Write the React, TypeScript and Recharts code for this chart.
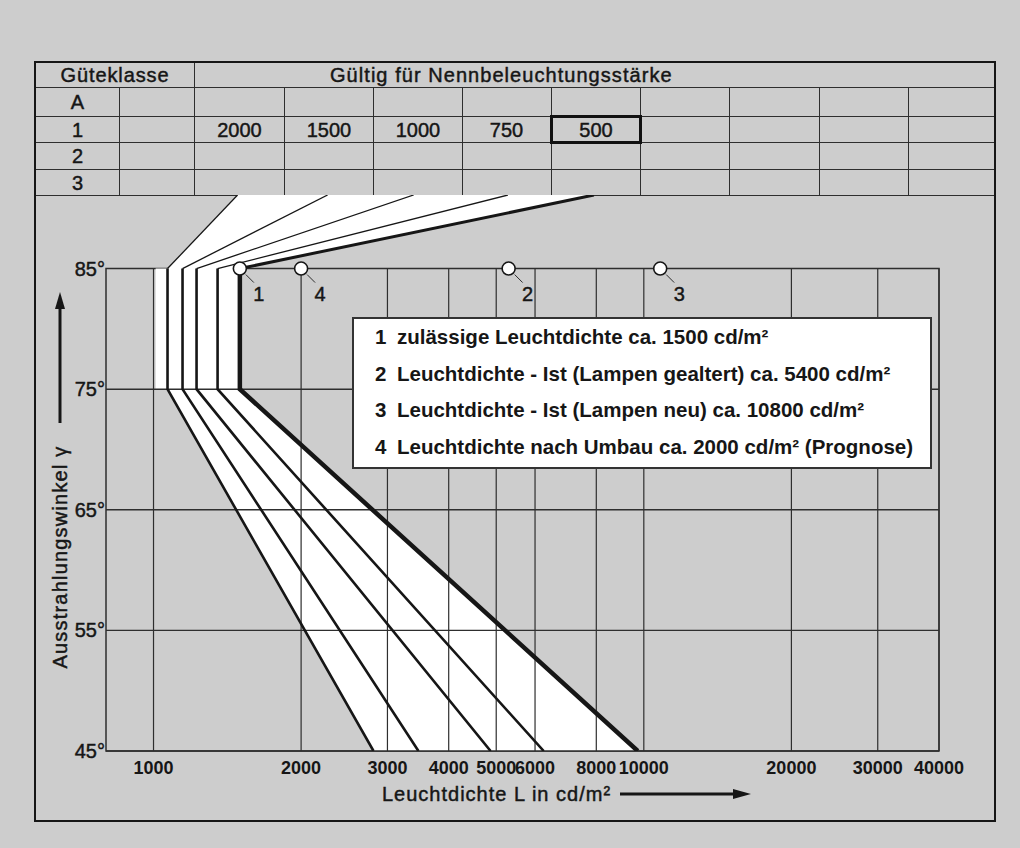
import React from "react";
import {
  ComposedChart,
  Area,
  Line,
  XAxis,
  YAxis,
  Label,
  Legend,
  ReferenceArea,
  ReferenceLine,
  ReferenceDot,
} from "recharts";

const FONT = "'Liberation Sans', Arial, Helvetica, sans-serif";
const INK = "#161616";
const GRID = "#2e2e2e";
const PAPER = "#cdcdcd";
const MEDIUM = 0.45; // extra stroke to give regular text a medium weight

// axes
const angleTicks = [45, 55, 65, 75, 85];
const luminanceTicks = [1000, 2000, 3000, 4000, 5000, 6000, 8000, 10000, 20000, 30000, 40000];
const L_MIN = 800;
const L_MAX = 40000;
const TABLE_EDGE = 91.1; // angle where the fan meets the table

// table
const gueteklassen = ["A", "1", "2", "3"];
const klasse1Werte = ["2000", "1500", "1000", "750", "500"];
const selectedWert = "500";
const colWidths = [84, 75, 90, 89, 89, 89, 89, 89, 90, 89, 87];
const rowHeights = [25, 29, 26, 27, 26];

// limit curves, L at [table edge, 85°, 75°, 45°]
const curveAngles = [TABLE_EDGE, 85, 75, 45];
const curve2000 = [1484, 1068, 1068, 2810];
const curve1500 = [2265, 1146, 1146, 3470];
const curve1000 = [3393, 1224, 1224, 4870];
const curve750 = [5280, 1351, 1351, 6250];
const curve500 = [7910, 1500, 1500, 9720];
const curves = [curve2000, curve1500, curve1000, curve750, curve500];

// white band
const bandAngles = [TABLE_EDGE, 85, 85, 75, 75, 45];
const bandLeft = [1484, 1068, 1010, 1010, 1068, 2810];
const bandRight = [7910, 1500, 1500, 1500, 1500, 9720];

// marked points at 85°
const markerIds = ["1", "2", "3", "4"];
const markerL = [1500, 5300, 10800, 2000];
const legendTexts = [
  "zulässige Leuchtdichte ca. 1500 cd/m²",
  "Leuchtdichte - Ist (Lampen gealtert) ca. 5400 cd/m²",
  "Leuchtdichte - Ist (Lampen neu) ca. 10800 cd/m²",
  "Leuchtdichte nach Umbau ca. 2000 cd/m² (Prognose)",
];

const bandData = bandAngles.map((y, i) => ({ y, band: [bandLeft[i], bandRight[i]] }));
const rows = (vals: number[], from: number, to: number) =>
  curveAngles.slice(from, to).map((y, i) => ({ y, L: vals[from + i] }));

function Table() {
  const cell: React.CSSProperties = {
    border: `1.5px solid ${GRID}`,
    padding: 0,
    textAlign: "center",
    fontSize: 20,
    lineHeight: "20px",
    overflow: "hidden",
    whiteSpace: "nowrap",
    WebkitTextStroke: `${MEDIUM}px ${INK}`,
  };
  return (
    <table
      style={{
        position: "absolute",
        left: 35,
        top: 62,
        width: 960,
        borderCollapse: "collapse",
        tableLayout: "fixed",
        fontFamily: FONT,
        color: INK,
      }}
    >
      <colgroup>
        {colWidths.map((w, i) => (
          <col key={i} style={{ width: w }} />
        ))}
      </colgroup>
      <tbody>
        <tr style={{ height: rowHeights[0] }}>
          <td colSpan={2} style={{ ...cell, letterSpacing: 0.9 }}>
            Güteklasse
          </td>
          <td colSpan={9} style={{ ...cell, textAlign: "left", paddingLeft: 135, letterSpacing: 1.05 }}>
            Gültig für Nennbeleuchtungsstärke
          </td>
        </tr>
        {gueteklassen.map((k, r) => (
          <tr key={k} style={{ height: rowHeights[r + 1] }}>
            <td style={cell}>{k}</td>
            <td style={cell} />
            {Array.from({ length: 9 }, (_, c) => {
              const v = k === "1" ? klasse1Werte[c] : undefined;
              const sel = v === selectedWert ? { border: `3px solid #111` } : {};
              return (
                <td key={c} style={{ ...cell, ...sel }}>
                  {v ?? ""}
                </td>
              );
            })}
          </tr>
        ))}
      </tbody>
    </table>
  );
}

function LegendBox() {
  return (
    <div
      style={{
        width: 580,
        height: 152,
        boxSizing: "border-box",
        border: `2px solid #333`,
        background: "#fff",
        paddingLeft: 21,
        fontFamily: FONT,
        fontWeight: 700,
        fontSize: 20.5,
        lineHeight: "36.7px",
        color: INK,
      }}
    >
      {legendTexts.map((t, i) => (
        <div key={i} style={{ display: "flex", whiteSpace: "nowrap" }}>
          <span style={{ width: 22 }}>{markerIds[i]}</span>
          <span>{t}</span>
        </div>
      ))}
    </div>
  );
}

const markerShape = (id: string) => (p: any) => (
  <g>
    <line x1={p.cx + 6} y1={p.cy + 6} x2={p.cx + 14} y2={p.cy + 14} stroke={GRID} strokeWidth={1} />
    <circle cx={p.cx} cy={p.cy} r={6.5} fill="#fff" stroke={INK} strokeWidth={1.6} />
    <text
      x={p.cx + 19}
      y={p.cy + 32}
      textAnchor="middle"
      fontSize={20}
      fontFamily={FONT}
      fill={INK}
      stroke={INK}
      strokeWidth={MEDIUM}
    >
      {id}
    </text>
  </g>
);

const renderYLabel = (props: any) => {
  const vb = props.viewBox || { x: 46, y: 195, width: 60, height: 556 };
  const cx = vb.x + 14;
  const ty = vb.y + 362;
  return (
    <g>
      <line x1={cx} y1={vb.y + 228} x2={cx} y2={vb.y + 110} stroke={INK} strokeWidth={3} />
      <polygon
        points={`${cx},${vb.y + 97} ${cx - 5},${vb.y + 114} ${cx + 5},${vb.y + 114}`}
        fill={INK}
      />
      <text
        x={cx}
        y={ty}
        transform={`rotate(-90 ${cx} ${ty})`}
        textAnchor="middle"
        dominantBaseline="central"
        fontSize={20}
        fontFamily={FONT}
        letterSpacing={1.2}
        fill={INK}
        stroke={INK}
        strokeWidth={MEDIUM}
      >
        Ausstrahlungswinkel γ
      </text>
    </g>
  );
};

const renderXLabel = (props: any) => {
  const vb = props.viewBox || { x: 106, y: 751, width: 833, height: 30 };
  const ly = vb.y + 43;
  return (
    <g>
      <text
        x={vb.x + 276}
        y={ly + 7}
        fontSize={20}
        fontFamily={FONT}
        letterSpacing={1}
        fill={INK}
        stroke={INK}
        strokeWidth={MEDIUM}
      >
        Leuchtdichte L in cd/m²
      </text>
      <line x1={vb.x + 514} y1={ly} x2={vb.x + 630} y2={ly} stroke={INK} strokeWidth={3} />
      <polygon points={`${vb.x + 645},${ly} ${vb.x + 627},${ly - 5} ${vb.x + 627},${ly + 5}`} fill={INK} />
    </g>
  );
};

export default function App() {
  return (
    <div
      style={{
        position: "absolute",
        left: 0,
        top: 0,
        width: 1020,
        height: 848,
        background: PAPER,
        fontFamily: FONT,
        overflow: "hidden",
      }}
    >
      <Table />
      <div
        style={{
          position: "absolute",
          left: 34,
          top: 61,
          width: 962,
          height: 761,
          border: `2px solid ${INK}`,
          boxSizing: "border-box",
        }}
      />
      <div style={{ position: "absolute", left: 0, top: 0 }}>
        <ComposedChart
          layout="vertical"
          width={1020}
          height={848}
          data={bandData}
          margin={{ top: 195, right: 81, bottom: 67, left: 46 }}
        >
          <XAxis
            type="number"
            scale="log"
            domain={[L_MIN, L_MAX]}
            allowDataOverflow
            ticks={luminanceTicks}
            interval={0}
            tickFormatter={(v) => String(v)}
            axisLine={false}
            tickLine={false}
            tickSize={0}
            tickMargin={10}
            height={30}
            tick={{ fill: INK, fontSize: 18, fontWeight: 700, fontFamily: FONT }}
          >
            <Label content={renderXLabel} />
          </XAxis>
          <YAxis
            type="number"
            dataKey="y"
            domain={[45, TABLE_EDGE]}
            allowDataOverflow
            reversed
            ticks={angleTicks}
            interval={0}
            tickFormatter={(v) => `${v}°`}
            axisLine={false}
            tickLine={false}
            tickSize={0}
            tickMargin={1}
            width={60}
            tick={{ fill: INK, fontSize: 20, fontFamily: FONT, stroke: INK, strokeWidth: MEDIUM }}
          >
            <Label content={renderYLabel} />
          </YAxis>

          <ReferenceArea
            x1={L_MIN}
            x2={L_MAX}
            y1={45}
            y2={85}
            fill="none"
            fillOpacity={0}
            stroke={GRID}
            strokeWidth={1.5}
            zIndex={50}
          />

          <Area
            dataKey="band"
            type="linear"
            fill="#ffffff"
            fillOpacity={1}
            stroke="none"
            isAnimationActive={false}
            zIndex={100}
          />

          {luminanceTicks.map((v) => (
            <ReferenceLine
              key={`v${v}`}
              segment={[
                { x: v, y: 45 },
                { x: v, y: 85 },
              ]}
              stroke={GRID}
              strokeWidth={1.2}
              zIndex={150}
            />
          ))}
          {[55, 65, 75, 45].map((a) => (
            <ReferenceLine key={`h${a}`} y={a} stroke={GRID} strokeWidth={1.4} zIndex={150} />
          ))}

          {curves.map((vals, i) => (
            <Line
              key={`u${i}`}
              data={rows(vals, 0, 2)}
              dataKey="L"
              type="linear"
              stroke={INK}
              strokeWidth={i === 4 ? 3 : 1.3}
              dot={false}
              activeDot={false}
              isAnimationActive={false}
            />
          ))}
          {curves.map((vals, i) => (
            <Line
              key={`l${i}`}
              data={rows(vals, 1, 4)}
              dataKey="L"
              type="linear"
              stroke={INK}
              strokeWidth={i === 4 ? 4.5 : 2.6}
              dot={false}
              activeDot={false}
              isAnimationActive={false}
            />
          ))}

          {markerIds.map((id, i) => (
            <ReferenceDot key={id} x={markerL[i]} y={85} r={6.5} shape={markerShape(id)} zIndex={700} />
          ))}

          <Legend
            layout="horizontal"
            verticalAlign="middle"
            align="center"
            wrapperStyle={{ left: 352, top: 317, width: 580, height: 152 }}
            content={() => <LegendBox />}
          />
        </ComposedChart>
      </div>
    </div>
  );
}
